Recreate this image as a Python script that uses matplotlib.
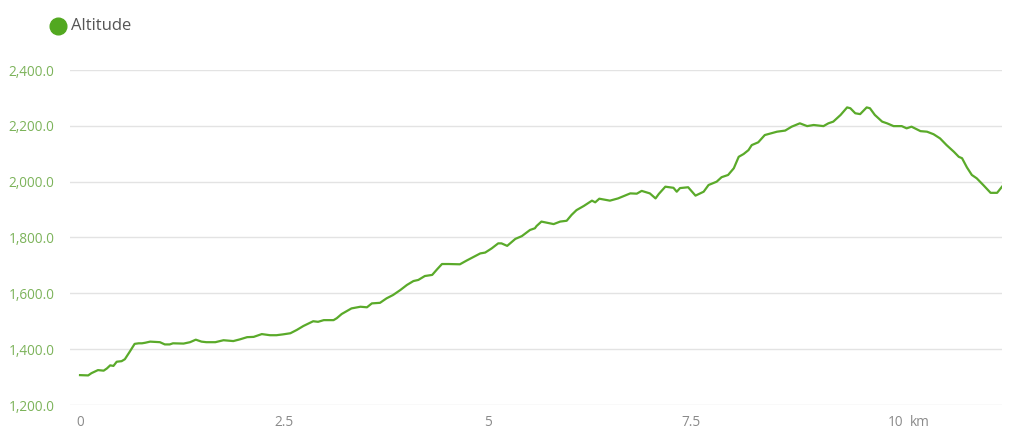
import matplotlib.pyplot as plt
from matplotlib.lines import Line2D

# distance (km) and altitude (m)
km = [0.00, 0.10, 0.14, 0.22, 0.29, 0.33, 0.37, 0.41, 0.45, 0.51,
      0.55, 0.61, 0.67, 0.72, 0.76, 0.80, 0.86, 0.98, 1.04, 1.10,
      1.14, 1.27, 1.35, 1.42, 1.49, 1.55, 1.66, 1.76, 1.88, 1.96,
      2.05, 2.13, 2.23, 2.33, 2.41, 2.49, 2.58, 2.66, 2.74, 2.81,
      2.86, 2.92, 2.99, 3.11, 3.15, 3.21, 3.33, 3.44, 3.52, 3.58,
      3.68, 3.76, 3.84, 3.93, 4.01, 4.09, 4.15, 4.23, 4.32, 4.38,
      4.44, 4.52, 4.66, 4.74, 4.83, 4.91, 4.97, 5.05, 5.13, 5.17,
      5.24, 5.34, 5.42, 5.52, 5.58, 5.60, 5.66, 5.81, 5.89, 5.97,
      6.03, 6.09, 6.18, 6.28, 6.32, 6.37, 6.50, 6.60, 6.75, 6.83,
      6.89, 6.99, 7.06, 7.10, 7.18, 7.28, 7.32, 7.36, 7.46, 7.55,
      7.65, 7.71, 7.81, 7.87, 7.95, 8.02, 8.08, 8.14, 8.20, 8.24,
      8.32, 8.40, 8.55, 8.65, 8.73, 8.83, 8.92, 9.00, 9.12, 9.18,
      9.24, 9.33, 9.41, 9.45, 9.51, 9.57, 9.65, 9.69, 9.75, 9.84,
      9.90, 9.98, 10.08, 10.14, 10.20, 10.31, 10.39, 10.47, 10.55, 10.63,
      10.72, 10.78, 10.82, 10.88, 10.94, 11.00, 11.08, 11.17, 11.25, 11.31]
altitude = [1307, 1306, 1314, 1325, 1323, 1331, 1342, 1340, 1355, 1357,
            1364, 1391, 1419, 1421, 1421, 1423, 1427, 1425, 1417, 1417,
            1421, 1420, 1425, 1434, 1427, 1425, 1425, 1432, 1429, 1435,
            1443, 1444, 1454, 1450, 1450, 1453, 1457, 1469, 1483, 1493,
            1500, 1498, 1504, 1504, 1511, 1526, 1546, 1552, 1550, 1564,
            1566, 1582, 1594, 1612, 1630, 1644, 1648, 1662, 1666, 1686,
            1705, 1705, 1704, 1717, 1731, 1743, 1746, 1761, 1779, 1779,
            1770, 1795, 1805, 1827, 1833, 1841, 1857, 1848, 1857, 1860,
            1881, 1898, 1913, 1932, 1926, 1939, 1932, 1940, 1958, 1957,
            1967, 1958, 1940, 1956, 1982, 1978, 1964, 1977, 1980, 1950,
            1964, 1988, 2000, 2016, 2024, 2048, 2089, 2099, 2113, 2131,
            2141, 2167, 2179, 2183, 2197, 2209, 2199, 2203, 2199, 2209,
            2215, 2239, 2266, 2263, 2245, 2242, 2266, 2263, 2239, 2215,
            2209, 2199, 2199, 2191, 2197, 2181, 2179, 2170, 2155, 2131,
            2107, 2089, 2084, 2051, 2024, 2012, 1988, 1960, 1960, 1982]

x_ticks = [0, 2.5, 5, 7.5, 10]
x_labels = ["0", "2.5", "5", "7.5", "10"]
y_ticks = [1200, 1400, 1600, 1800, 2000, 2200, 2400]
y_labels = ["1,200.0", "1,400.0", "1,600.0", "1,800.0", "2,000.0", "2,200.0", "2,400.0"]

plt.rcParams['font.family'] = ['Open Sans', 'DejaVu Sans']

fig = plt.figure(figsize=(10.24, 4.4), dpi=100)
ax = fig.add_axes([70/1024, 35/440, 932/1024, 335/440])

ax.plot(km, altitude, color="#5aaa2a", linewidth=1.6, solid_joinstyle="round")

ax.set_xlim(-0.123, 11.31)
ax.set_ylim(1200, 2400)
ax.set_xticks(x_ticks)
ax.set_xticklabels(x_labels)
ax.set_yticks(y_ticks)
ax.set_yticklabels(y_labels)
ax.grid(axis="y", color="#e3e3e3", linewidth=1)
ax.set_axisbelow(True)
for s in ax.spines.values():
    s.set_visible(False)
ax.tick_params(axis="both", length=0)
ax.tick_params(axis="y", labelcolor="#7cb35a", labelsize=9.8, pad=11)
ax.tick_params(axis="x", labelcolor="#8a8a8a", labelsize=9.8, pad=7)

ax.text(10.18, -0.029, "km", transform=ax.get_xaxis_transform(),
        color="#8a8a8a", fontsize=9.8, va="top", ha="left")

# legend
fig.add_artist(Line2D([58/1024], [1 - 26/440], transform=fig.transFigure,
                      marker="o", markersize=12, color="#52a820", linestyle=""))
fig.text(71/1024, 1 - 26/440, "Altitude", color="#555555", fontsize=12,
         va="center", ha="left")

fig.savefig("out.png", dpi=100)
